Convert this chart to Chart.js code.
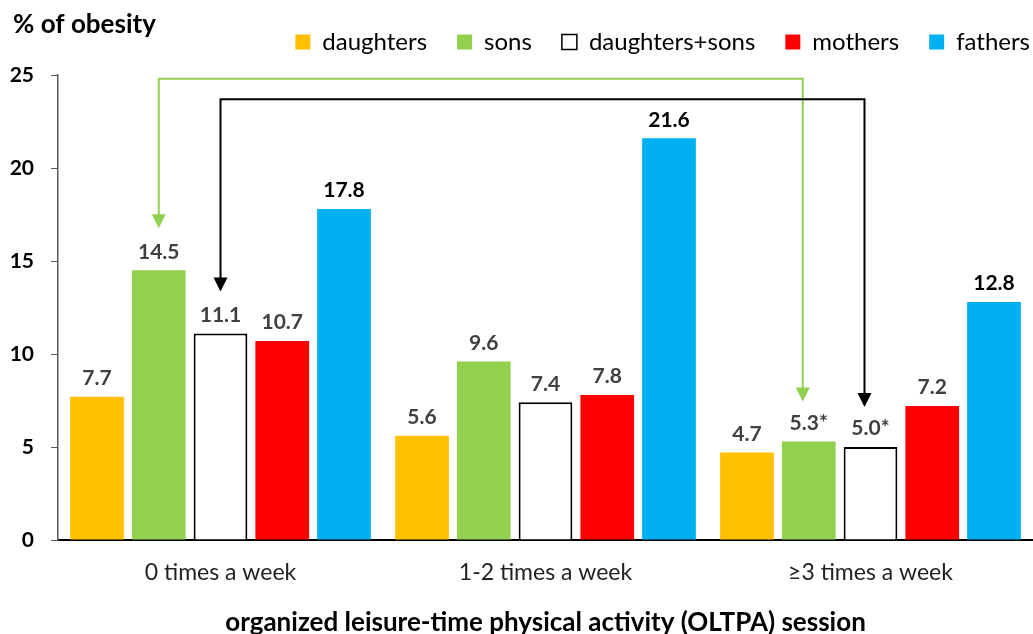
<!DOCTYPE html>
<html>
<head>
<meta charset="utf-8">
<script src="https://cdn.jsdelivr.net/npm/chart.js@4"></script>
<style>
  html, body { margin: 0; padding: 0; background: #fff; }
  #wrap { width: 1033px; height: 634px; }
</style>
</head>
<body>
<div id="wrap"><canvas id="myChart" width="1033" height="634"></canvas></div>
<script>
// chart values
const categories = ['0 times a week', '1-2 times a week', '\u22653 times a week'];
const daughters = [7.7, 5.6, 4.7];
const sons = [14.5, 9.6, 5.3];
const daughtersSons = [11.1, 7.4, 5.0];
const mothers = [10.7, 7.8, 7.2];
const fathers = [17.8, 21.6, 12.8];
// labels drawn above bars (asterisk = significant)
const sonsLabels = ['14.5', '9.6', '5.3*'];
const daughtersSonsLabels = ['11.1', '7.4', '5.0*'];

const FONT = 'Lato, "Open Sans", sans-serif';

// legend: fixed height and pushed to the right edge
const legendTweak = {
    id: 'legendTweak',
    beforeInit(chart) {
        const lg = chart.legend;
        if (!lg) return;
        const origFit = lg.fit.bind(lg);
        lg.fit = function () { origFit(); this.height = 75; };
        const origDraw = lg.draw.bind(lg);
        lg.draw = function () {
            const r = this.right;
            this.right = r + 27;
            origDraw();
            this.right = r;
        };
    }
};

// draws the value labels, the "% of obesity" caption and the comparison arrows
const extras = {
    id: 'extras',
    afterDatasetsDraw(chart) {
        const ctx = chart.ctx;
        const yScale = chart.scales.y;
        ctx.save();
        ctx.font = 'bold 21px ' + FONT;
        ctx.textAlign = 'center';
        ctx.textBaseline = 'bottom';
        chart.data.datasets.forEach((ds, i) => {
            const meta = chart.getDatasetMeta(i);
            meta.data.forEach((bar, j) => {
                const txt = ds.labelsText ? ds.labelsText[j] : ds.data[j].toFixed(1);
                ctx.fillStyle = ds.labelColor;
                ctx.fillText(txt, bar.x, bar.y - 8);
            });
        });

        // arrows: from group 0 bar to group 2 bar
        function arrow(dsIndex, levelValue, color, shift) {
            const meta = chart.getDatasetMeta(dsIndex);
            const a = meta.data[0], b = meta.data[2];
            const yTop = yScale.getPixelForValue(levelValue);
            const x1 = a.x, x2 = b.x + shift;
            const tip1 = a.y - 42, tip2 = b.y - 40;
            ctx.strokeStyle = color;
            ctx.fillStyle = color;
            ctx.lineWidth = 2;
            ctx.beginPath();
            ctx.moveTo(x1, tip1 - 12);
            ctx.lineTo(x1, yTop);
            ctx.lineTo(x2, yTop);
            ctx.lineTo(x2, tip2 - 12);
            ctx.stroke();
            [[x1, tip1], [x2, tip2]].forEach(p => {
                ctx.beginPath();
                ctx.moveTo(p[0] - 7, p[1] - 14);
                ctx.lineTo(p[0] + 7, p[1] - 14);
                ctx.lineTo(p[0], p[1]);
                ctx.closePath();
                ctx.fill();
            });
        }
        arrow(1, 24.8, '#92D050', -6);
        arrow(2, 23.7, '#000000', -6);

        ctx.fillStyle = '#000';
        ctx.font = 'bold 26px ' + FONT;
        ctx.textAlign = 'left';
        ctx.textBaseline = 'middle';
        ctx.fillText('% of obesity', 13, 25);
        ctx.restore();
    }
};

const ctx = document.getElementById('myChart').getContext('2d');

new Chart(ctx, {
    type: 'bar',
    data: {
        labels: categories,
        datasets: [
            { label: 'daughters', data: daughters, backgroundColor: '#FFC000', borderWidth: 0, labelColor: '#404040' },
            { label: 'sons', data: sons, backgroundColor: '#92D050', borderWidth: 0, labelColor: '#404040', labelsText: sonsLabels },
            { label: 'daughters+sons', data: daughtersSons, backgroundColor: '#FFFFFF', borderColor: '#000000', borderWidth: 2, labelColor: '#404040', labelsText: daughtersSonsLabels },
            { label: 'mothers', data: mothers, backgroundColor: '#FF0000', borderWidth: 0, labelColor: '#404040' },
            { label: 'fathers', data: fathers, backgroundColor: '#00B0F0', borderWidth: 0, labelColor: '#000000' }
        ]
    },
    options: {
        responsive: false,
        animation: false,
        categoryPercentage: 0.95,
        barPercentage: 0.87,
        layout: { padding: { top: 0, right: 0, left: 0, bottom: 0 } },
        plugins: {
            tooltip: { enabled: false },
            legend: {
                position: 'top',
                align: 'end',
                labels: {
                    font: { family: FONT, size: 24 },
                    color: '#000',
                    boxWidth: 15,
                    boxHeight: 15,
                    padding: 30,
                    generateLabels(chart) {
                        return chart.data.datasets.map((ds, i) => ({
                            text: ds.label,
                            fillStyle: ds.backgroundColor,
                            strokeStyle: ds.borderWidth ? '#000' : ds.backgroundColor,
                            lineWidth: ds.borderWidth ? 1.5 : 0,
                            datasetIndex: i,
                            hidden: false
                        }));
                    }
                }
            }
        },
        scales: {
            x: {
                grid: { drawOnChartArea: false, drawTicks: false },
                border: { color: '#000', width: 2 },
                ticks: { font: { family: FONT, size: 23 }, color: '#222', padding: 19 },
                title: {
                    display: true,
                    text: 'organized leisure-time physical activity (OLTPA) session',
                    font: { family: FONT, size: 26, weight: 'bold' },
                    color: '#000',
                    padding: { top: 18, bottom: -4 }
                },
                afterFit(scale) { scale.height = 94; }
            },
            y: {
                min: 0,
                max: 25,
                ticks: { stepSize: 5, font: { family: FONT, size: 21, weight: 'bold' }, color: '#000', padding: 17 },
                grid: { drawOnChartArea: false, drawTicks: true, tickLength: 7, color: '#595959' },
                border: { color: '#595959', width: 1.5 },
                afterFit(scale) { scale.width = 58; }
            }
        }
    },
    plugins: [legendTweak, extras]
});
</script>
</body>
</html>
